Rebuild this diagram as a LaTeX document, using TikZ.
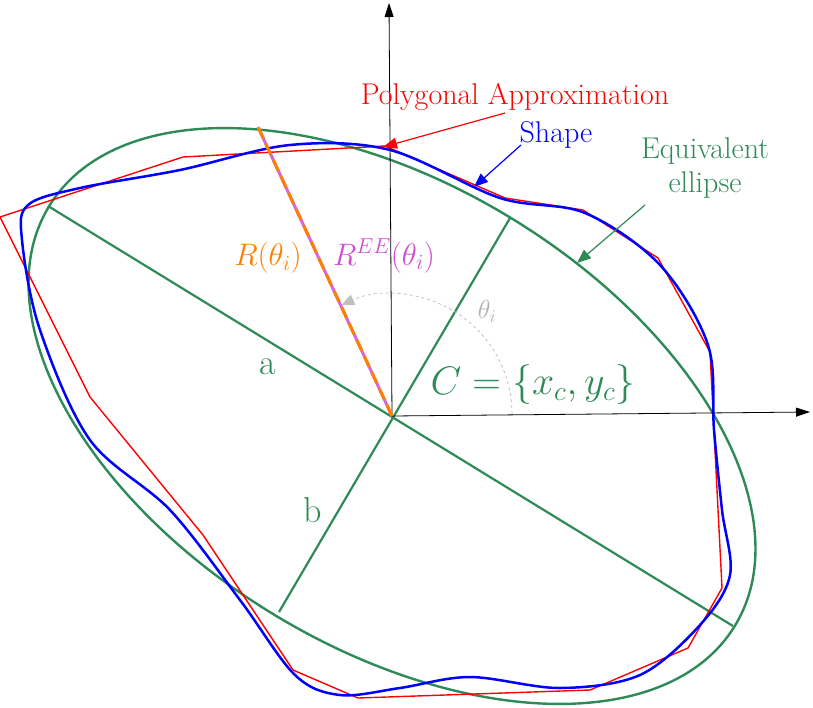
\documentclass[tikz,border=0pt]{standalone}
\usepackage{fontspec}
\usetikzlibrary{arrows.meta}
\definecolor{eg}{RGB}{46,139,87}
\begin{document}
\begin{tikzpicture}[x=1pt,y=-1pt,
  lbl/.style={font=\fontsize{30}{34}\selectfont},
  mth/.style={font=\fontsize{25}{30}\selectfont},
  tip/.style={-{Triangle[length=14pt,width=11pt]}},
  ax/.style={line width=0.8pt,-{Triangle[length=14pt,width=9pt]}}]
\useasboundingbox (0,0) rectangle (813,707);
\coordinate (C) at (392,416);
\coordinate (Xe) at (810,412);
\coordinate (Ye) at (389,3);
\coordinate (P) at (258,127);
% ellipse
\draw[eg,line width=2.4pt,rotate around={-31.5:(C)}] (C) ellipse [x radius=402,y radius=231];
\coordinate (A1) at (48,206); \coordinate (A2) at (733,626);
\coordinate (B1) at (510,218); \coordinate (B2) at (279,612);
\draw[eg,line width=2.2pt] (A1)--(A2) (B1)--(B2);
% polygon
\draw[red,line width=1.4pt] (0,217)--(183,157)--(385,146)--(505,198)--(583,210)--(658,258)--(710,352)--(722,588)--(688,648)--(590,690)--(358,698)--(293,670)--(203,535)--(90,397)--cycle;
% shape
\draw[blue,line width=2.5pt] plot[smooth cycle,tension=0.55] coordinates {(28,205) (80,188) (180,170) (290,145) (390,150) (500,198) (585,213) (660,265) (708,345) (714,430) (722,510) (730,575) (700,625) (640,675) (560,688) (470,677) (400,688) (340,695) (295,675) (240,600) (170,510) (90,440) (40,330) (22,240)};
% axes
\draw[ax] (C)--(Xe);
\draw[ax] (C)--(Ye);
% radius
\draw[violet!50!magenta!60!white,line width=3pt] (C)--(P);
\draw[orange,line width=3pt,dash pattern=on 12pt off 6pt] (C)--(P);
% angle
\draw[gray!50,dashed,line width=0.8pt,-{Triangle[length=13pt,width=11pt]}] (512,414) arc[start angle=0,end angle=-115,radius=120];
\node[mth,gray!60] (th) at (487,311) {\scalebox{1.05}{$\theta_i$}};
\node[mth,orange] (R) at (268,258) {\scalebox{1.25}{$R(\theta_i)$}};
\node[mth,violet!50!magenta!70!white] (REE) at (384,256) {\scalebox{1.25}{$R^{EE}(\theta_i)$}};
\node[eg,font=\fontsize{36}{40}\selectfont] (a) at (268,367) {a};
\node[eg,font=\fontsize{36}{40}\selectfont] (b) at (313,510) {b};
\node[mth,eg] (Cl) at (533,385) {\scalebox{1.6}{$C=\{x_c,y_c\}$}};
% labels with arrows
\node[lbl,red] (pa) at (515,97) {Polygonal Approximation};
\draw[red,line width=1.2pt,tip] (505,113)--(383,147);
\node[lbl,blue] (sh) at (556,135) {Shape};
\draw[blue,line width=1.2pt,tip] (521,145)--(474,187);
\node[lbl,eg,align=center] (ee) at (705,168) {Equivalent\\ellipse};
\draw[eg,line width=1.2pt,tip] (645,205)--(577,263);
\end{tikzpicture}
\end{document}
